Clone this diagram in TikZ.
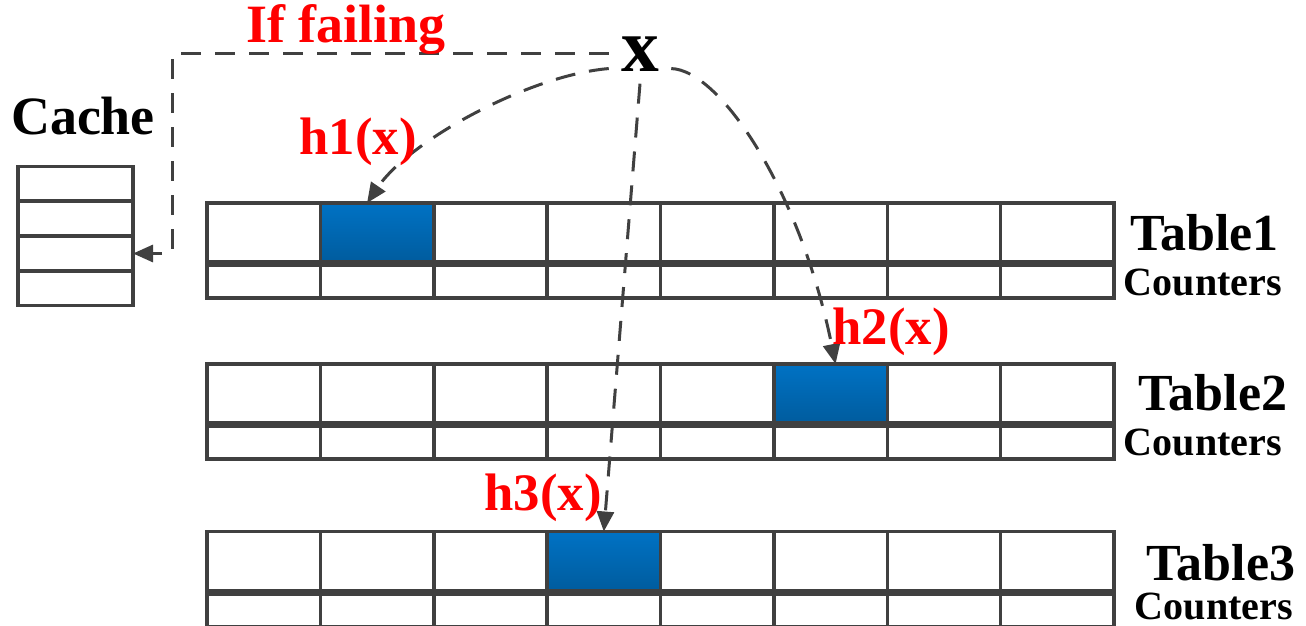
\documentclass[tikz,border=0pt]{standalone}
\usepackage{fontspec}
\setmainfont{Liberation Serif}
\usepackage{tikz}
\usetikzlibrary{arrows.meta, positioning, calc}
\definecolor{cgrid}{HTML}{404040}
\definecolor{cbluetop}{HTML}{0072C4}
\definecolor{cbluebot}{HTML}{005C9E}
\definecolor{cred}{HTML}{FF0000}

\begin{document}
\begin{tikzpicture}[x=0.2mm, y=-0.2mm,
  cell/.style={draw=cgrid, line width=0.7mm, inner sep=0pt, outer sep=0pt,
    minimum width=22.675mm, minimum height=11.8mm},
  ctr/.style={cell, minimum height=6.6mm},
  hit/.style={top color=cbluetop, bottom color=cbluebot},
  slot/.style={cell, minimum width=23mm, minimum height=6.8mm},
  link/.style={draw=cgrid, line width=0.6mm, dash pattern=on 4mm off 2.8mm,
    -{Triangle[length=4mm, width=3.4mm]}},
  tag/.style={font=\fontsize{30}{30}\selectfont\bfseries, text=cred, inner sep=0pt},
  tname/.style={font=\fontsize{29.6}{30}\selectfont\bfseries, inner sep=0pt},
  cname/.style={font=\fontsize{22.8}{23}\selectfont\bfseries, inner sep=0pt}]
\useasboundingbox (0,0) rectangle (1306,626);
% cache
\node[tname, font=\fontsize{30.7}{31}\selectfont\bfseries, anchor=base] (cachelab) at (83,135) {Cache};
\node[slot] (cache1) at (75.5,183.5) {};
\node[slot] (cache2) at (75.5,218.5) {};
\node[slot] (cache3) at (75.5,253.5) {};
\node[slot] (cache4) at (75.5,288.5) {};
% the three tables, one hit cell each
\foreach \t/\ty/\cy/\h in {1/232.5/281.5/2, 2/393.5/442.5/6, 3/561/610.5/4} {
  \foreach \c in {1,...,8} {
    \ifnum\c=\h \def\look{hit}\else \def\look{}\fi
    \node[cell, \look] (t\t-\c) at ({207+113.375*(\c-0.5)},\ty) {};
    \node[ctr] (n\t-\c) at ({207+113.375*(\c-0.5)},\cy) {};
  }
}
\node[tname, anchor=base] (tab1) at (1204.5,251) {Table1};
\node[cname, anchor=base] (cnt1) at (1203,295) {Counters};
\node[tname, anchor=base] (tab2) at (1213,410) {Table2};
\node[cname, anchor=base] (cnt2) at (1203,455) {Counters};
\node[tname, anchor=base] (tab3) at (1221,580) {Table3};
\node[cname, anchor=base] (cnt3) at (1214,619) {Counters};
% the key and its hashes
\node[font=\fontsize{43}{43}\selectfont\bfseries, inner sep=2.4mm] (xkey) at (640,54) {x};
\coordinate (bend) at (172,253.5);
\draw[link] (xkey.west) -| (bend) -- (cache3.east);
\draw[link] (xkey.205) .. controls (530,75) and (410,140) .. ([xshift=-2mm]t1-2.north);
\draw[link] (xkey.-25) .. controls (720,70) and (800,190) .. ([xshift=1mm]t2-6.north);
\draw[link] (xkey.south) -- (t3-4.north);
\node[tag, font=\fontsize{30.7}{31}\selectfont\bfseries, anchor=base] (faillab) at (346,43) {If failing};
\node[tag, anchor=base] (h1lab) at (358,155) {h1(x)};
\node[tag, anchor=base] (h2lab) at (891,345) {h2(x)};
\node[tag, anchor=base] (h3lab) at (543,510) {h3(x)};
\end{tikzpicture}
\end{document}
